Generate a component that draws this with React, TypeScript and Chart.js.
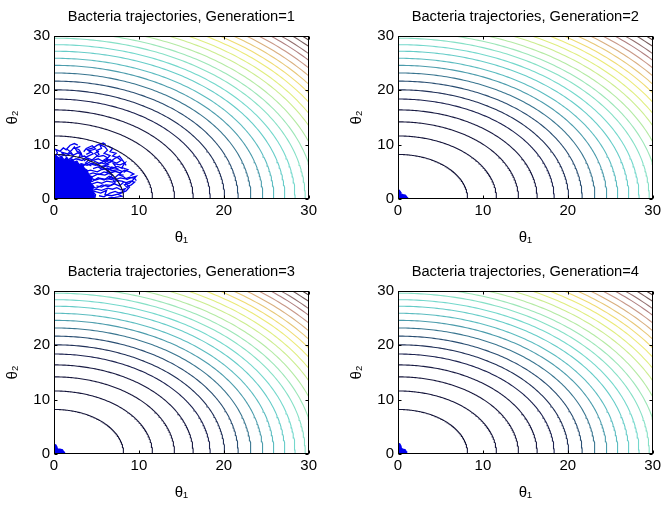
import React, { useEffect, useRef } from 'react';
import { Chart, registerables } from 'chart.js';

Chart.register(...registerables);

// ---------- data ----------
const generations = [1, 2, 3, 4];
const axisTicks = [0, 10, 20, 30];
const titlePrefix = 'Bacteria trajectories, Generation=';
const xLabel = 'θ₁';
const yLabel = 'θ₂';

// radii of the cost-function contour levels (read where they cross the axes)
const contourRadii = [
  8.2, 11.6, 14.2, 16.4, 18.4, 20.1, 21.7, 23.2, 24.6, 25.9, 27.2, 28.4, 29.6,
  30.7, 31.8, 32.9, 33.9, 34.9, 35.8, 36.7, 37.6, 38.5, 39.4, 40.2, 41.1, 41.9,
];
const contourColors = [
  '#16163a', '#16163c', '#18183e', '#1a1c44', '#1c2250', '#203058', '#2a4e72',
  '#3a7690', '#4c9cac', '#5cbcc0', '#66ccc8', '#74d8cc', '#86e0c6', '#9ce6b8',
  '#b4eaa4', '#cced90', '#e0ee80', '#ecea78', '#f0dc74', '#e8c878', '#dab080',
  '#c89888', '#b08080', '#947070', '#765c5c', '#584444',
];

// dense region of generation 1 (upper boundary of the packed trajectories)
const gen1Core: number[][] = [
  [0, 7.6], [0.3, 8.0], [0.6, 7.3], [0.9, 7.8], [1.2, 7.2], [1.5, 7.7], [1.8, 7.0],
  [2.1, 7.4], [2.4, 6.8], [2.7, 7.0], [3.0, 6.2], [3.3, 6.4], [3.6, 5.6], [3.9, 5.3],
  [4.1, 4.4], [4.5, 3.9], [4.3, 3.0], [4.7, 2.3], [4.5, 1.5], [4.9, 0.8], [4.8, 0],
];
const gen1Paths: number[][][] = [
  [[0.3, 6], [0.8, 6.8], [0.5, 7.6], [1.2, 8.1], [0.9, 8.6], [1.6, 8.3], [2.1, 9.0], [2.4, 9.6], [2.7, 8.8], [3.2, 8.4], [2.9, 7.6], [3.6, 7.9], [4.1, 7.2], [3.7, 6.6], [4.4, 6.1]],
  [[2, 5], [2.8, 5.6], [3.5, 6.2], [4.2, 6.8], [4.8, 7.6], [5.3, 8.2], [5.0, 8.9], [5.6, 9.3], [5.4, 10.0], [6.0, 9.6], [6.3, 9.0], [5.9, 8.4], [6.6, 8.0], [6.2, 7.3], [7.0, 7.0]],
  [[3, 3], [3.8, 3.6], [4.5, 3.2], [5.2, 3.9], [5.9, 3.5], [6.5, 4.2], [7.1, 3.8], [7.6, 4.5], [8.2, 4.1], [8.6, 3.6], [9.2, 4.0], [9.7, 4.2], [9.3, 3.5], [8.9, 2.9], [8.3, 2.6], [8.7, 2.0]],
  [[4, 1], [4.8, 1.4], [5.5, 1.1], [6.2, 1.6], [6.0, 0.8], [6.8, 0.6], [7.5, 0.9], [8.0, 0.5], [7.2, 0.3], [6.4, 0.2]],
  [[3.5, 5], [4.3, 5.3], [5.1, 5.0], [5.8, 5.6], [6.6, 5.4], [7.3, 5.9], [7.0, 6.5], [7.8, 6.3], [8.4, 6.7], [8.0, 5.8], [8.7, 5.4], [8.2, 4.9]],
  [[2, 7], [2.6, 7.4], [3.3, 7.1], [3.9, 7.8], [4.6, 8.3], [4.2, 8.9], [4.9, 9.2], [4.5, 9.8], [3.8, 9.3], [3.5, 8.7]],
  [[1, 1], [1.8, 1.6], [2.6, 1.2], [3.4, 1.8], [4.2, 2.3], [5.0, 2.0], [5.7, 2.6], [6.4, 2.3], [7.1, 2.8], [7.7, 2.4], [8.2, 3.1]],
  [[0.2, 7], [0.1, 7.9], [0.4, 8.5], [0.2, 9.1], [0.7, 8.8], [1.1, 9.4], [1.5, 9.0]],
  [[3, 4], [3.7, 4.4], [4.5, 4.1], [5.2, 4.6], [6.0, 4.4], [6.7, 4.9], [6.3, 5.2], [5.6, 6.0], [6.4, 6.3], [5.9, 6.9], [6.7, 7.3]],
  [[4.2, 6.5], [4.9, 6.2], [5.5, 6.7], [6.1, 6.4], [6.8, 6.9], [7.4, 6.6], [7.9, 7.1], [7.5, 7.6], [6.9, 7.9], [7.3, 8.4], [6.6, 8.7], [6.9, 9.3], [6.3, 9.8]],
  [[4.5, 2.8], [5.1, 3.1], [5.6, 2.9], [6.2, 3.3], [6.9, 3.1], [7.4, 3.4], [8.0, 3.3], [8.5, 3.0], [9.0, 3.3], [9.5, 3.1], [9.1, 2.6], [8.6, 2.3]],
  [[4.0, 4.5], [4.6, 4.8], [5.3, 4.5], [5.9, 5.0], [6.5, 4.7], [7.2, 5.1], [7.8, 4.8], [8.3, 5.3], [8.9, 5.0], [9.4, 4.6], [9.0, 4.3]],
  [[3.5, 7], [4.0, 7.5], [4.6, 7.1], [5.2, 7.4], [5.7, 7.0], [6.3, 7.6], [5.8, 8.0], [5.2, 7.8], [4.8, 8.4], [5.3, 8.8]],
  [[4.4, 1.5], [5.0, 1.8], [5.6, 1.6], [6.3, 2.0], [6.9, 1.8], [7.4, 2.1], [7.9, 1.7], [8.4, 1.9], [8.1, 1.3], [7.6, 1.1]],
  [[0.5, 8], [1.0, 8.3], [1.4, 7.9], [1.9, 8.4], [2.3, 8.1], [2.8, 8.5], [3.3, 8.0], [3.0, 9.0], [2.6, 9.4], [3.1, 9.7]],
  [[2.5, 6], [3.2, 6.5], [3.9, 6.2], [4.5, 6.6], [5.0, 6.3], [5.6, 5.8], [6.2, 6.1], [6.9, 5.7], [7.5, 6.0], [8.1, 5.6]],
  [[4.3, 3.8], [4.9, 3.5], [5.5, 3.8], [6.1, 3.6], [6.7, 3.9], [7.3, 3.6], [7.8, 3.9], [8.4, 3.7], [8.9, 4.0], [9.5, 3.8], [9.7, 3.4]],
  [[4.6, 5.6], [5.2, 5.9], [5.7, 5.4], [6.3, 5.7], [6.8, 5.2], [7.5, 5.4], [8.0, 5.1], [7.7, 4.5], [8.2, 4.4]],
  [[1.0, 6.5], [1.7, 7.2], [2.3, 7.9], [2.0, 8.6], [1.5, 9.2], [1.9, 9.9], [2.4, 10.2], [2.8, 9.9]],
  [[5.0, 2.4], [5.6, 2.2], [6.1, 2.6], [6.7, 2.5], [7.2, 3.0], [7.0, 3.5], [6.4, 3.7], [6.9, 4.4], [6.2, 4.9], [6.8, 5.9], [7.6, 5.5]],
  [[3.8, 8.2], [4.3, 8.6], [3.9, 9.1], [4.6, 9.4], [5.1, 9.9], [5.8, 10.3], [6.1, 10.0]],
  [[5.3, 0.6], [5.9, 0.4], [6.6, 1.1], [7.2, 1.4], [7.8, 1.0], [8.5, 1.5], [8.9, 2.2], [8.4, 2.9]],
  [[4.7, 7.0], [5.4, 6.5], [6.0, 7.1], [6.5, 6.7], [7.1, 7.4], [7.7, 7.9], [8.0, 7.3], [8.5, 6.2]],
];

// small clusters of the later generations
const gen2Core: number[][] = [[0, 1.5], [0.15, 1.6], [0.3, 1.3], [0.35, 0.9], [0.6, 0.8], [0.9, 0.7], [1.0, 0.4], [1.15, 0.2], [1.1, 0]];
const gen3Core: number[][] = [[0, 1.6], [0.2, 1.7], [0.35, 1.3], [0.4, 0.9], [0.7, 0.9], [1.0, 0.8], [1.1, 0.5], [1.25, 0.3], [1.2, 0]];
const gen4Core: number[][] = [[0, 1.8], [0.2, 1.9], [0.35, 1.5], [0.4, 1.0], [0.6, 0.9], [0.85, 0.8], [0.95, 0.5], [1.05, 0.2], [1.0, 0]];

const coresByGen: number[][][] = [gen1Core, gen2Core, gen3Core, gen4Core];
const pathsByGen: number[][][][] = [gen1Paths, [], [], []];

// ---------- drawing ----------
const FONT = "'Liberation Sans', Arial, Helvetica, sans-serif";
const BLUE = '#0000f0';

function arcPoints(r: number) {
  const pts: { x: number; y: number }[] = [];
  const n = 120;
  for (let i = 0; i <= n; i++) {
    const t = (Math.PI / 2) * (i / n);
    pts.push({ x: r * Math.cos(t), y: r * Math.sin(t) });
  }
  return pts;
}

const toXY = (arr: number[][]) => arr.map(([x, y]) => ({ x, y }));

const boxPlugin = {
  id: 'matlabBox',
  afterLayout(chart: any) {
    // centre the title over the plotting area, as MATLAB does
    const t = chart.titleBlock;
    if (t) {
      t.left = chart.chartArea.left;
      t.right = chart.chartArea.right;
      t.width = t.right - t.left;
    }
  },
  afterDatasetsDraw(chart: any) {
    const { ctx, chartArea, scales } = chart;
    const { left, top, right, bottom } = chartArea;
    const x = scales.x;
    const y = scales.y;
    ctx.save();
    ctx.strokeStyle = '#000';
    ctx.lineWidth = 1;
    const L = Math.round(left) + 0.5;
    const T = Math.round(top) + 0.5;
    const R = Math.round(right) - 0.5;
    const B = Math.round(bottom) - 0.5;
    ctx.strokeRect(L, T, R - L, B - T);
    const len = 3;
    ctx.beginPath();
    for (const v of axisTicks) {
      const px = Math.round(x.getPixelForValue(v)) + 0.5;
      ctx.moveTo(px, B); ctx.lineTo(px, B - len);
      ctx.moveTo(px, T); ctx.lineTo(px, T + len);
      const py = Math.round(y.getPixelForValue(v)) + 0.5;
      ctx.moveTo(L, py); ctx.lineTo(L + len, py);
      ctx.moveTo(R, py); ctx.lineTo(R - len, py);
    }
    ctx.stroke();
    ctx.restore();
  },
};

function Subplot({ gen, idx, left, top }: { gen: number; idx: number; left: number; top: number }) {
  const ref = useRef<HTMLCanvasElement | null>(null);
  useEffect(() => {
    if (!ref.current) return;
    const datasets: any[] = [];
    contourRadii.forEach((r, i) => {
      datasets.push({
        data: arcPoints(r),
        borderColor: contourColors[i],
        borderWidth: 1.1,
        pointRadius: 0,
        fill: false,
        tension: 0,
      });
    });
    datasets.push({
      data: toXY(coresByGen[idx]),
      borderColor: BLUE,
      backgroundColor: BLUE,
      borderWidth: 1.2,
      pointRadius: 0,
      fill: 'origin',
    });
    pathsByGen[idx].forEach((p) => {
      datasets.push({
        data: toXY(p),
        borderColor: BLUE,
        borderWidth: 1.3,
        pointRadius: 0,
        fill: false,
      });
    });
    const chart = new Chart(ref.current, {
      type: 'line',
      data: { datasets },
      options: {
        responsive: false,
        animation: false,
        devicePixelRatio: 1,
        layout: { padding: { left: 0, right: 5, top: 0, bottom: 0 } },
        plugins: {
          legend: { display: false },
          tooltip: { enabled: false },
          title: {
            display: true,
            text: titlePrefix + gen,
            color: '#000',
            align: 'center',
            font: { family: FONT, size: 14.7, weight: 'normal', lineHeight: '17px' },
            padding: { top: 8, bottom: 11 },
          },
        },
        scales: {
          x: {
            type: 'linear',
            min: 0,
            max: 30,
            grid: { display: false, drawTicks: false },
            border: { display: false },
            ticks: {
              stepSize: 10,
              color: '#000',
              padding: 3,
              maxRotation: 0,
              font: { family: FONT, size: 15 },
            },
            title: {
              display: true,
              text: xLabel,
              color: '#000',
              font: { family: FONT, size: 15, lineHeight: '18px' },
              padding: { top: 0, bottom: 8 },
            },
            afterFit: (s: any) => { s.height = 56; },
          },
          y: {
            type: 'linear',
            min: 0,
            max: 30,
            grid: { display: false, drawTicks: false },
            border: { display: false },
            ticks: {
              stepSize: 10,
              color: '#000',
              padding: 4,
              font: { family: FONT, size: 15 },
            },
            title: {
              display: true,
              text: yLabel,
              color: '#000',
              font: { family: FONT, size: 15, lineHeight: '18px' },
              padding: { top: 4, bottom: 0 },
            },
            afterFit: (s: any) => { s.width = 54; },
          },
        },
      },
      plugins: [boxPlugin],
    } as any);
    return () => chart.destroy();
  }, [gen, idx]);
  return (
    <div style={{ position: 'absolute', left, top, width: 320, height: 255 }}>
      <canvas ref={ref} width={320} height={255} style={{ display: 'block' }} />
    </div>
  );
}

export default function App() {
  const positions = [
    { left: 0, top: 0 },
    { left: 344, top: 0 },
    { left: 0, top: 255 },
    { left: 344, top: 255 },
  ];
  return (
    <div style={{ position: 'absolute', left: 0, top: 0, width: 667, height: 510, background: '#fff', overflow: 'hidden' }}>
      {generations.map((g, i) => (
        <Subplot key={g} gen={g} idx={i} left={positions[i].left} top={positions[i].top} />
      ))}
    </div>
  );
}
